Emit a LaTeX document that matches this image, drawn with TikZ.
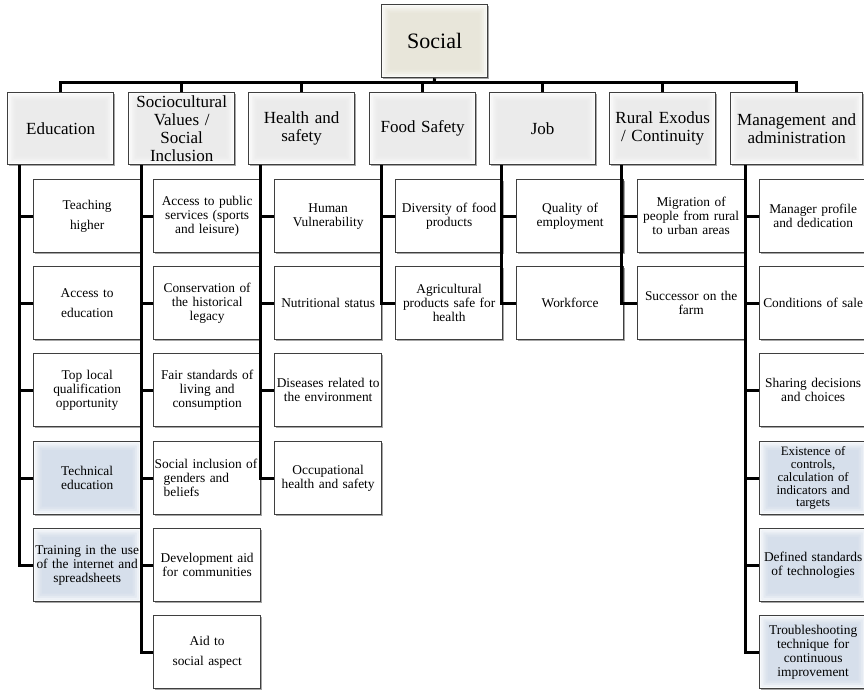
\documentclass[tikz,border=0pt]{standalone}
\usepackage{fontspec}
\setmainfont{Liberation Serif}
\usetikzlibrary{shadows}

\definecolor{edgegray}{HTML}{3F3F3F}
\definecolor{catfill}{HTML}{EBEBEB}
\definecolor{rootfill}{HTML}{E8E6DA}
\definecolor{bluefill}{HTML}{D6DFEB}

% one light frame of the bevel, between insets #1 and #2 (in pt)
\newcommand{\bevelframe}[3]{%
  \fill[white, opacity=#3, even odd rule]
    ([shift={(#1pt,#1pt)}]path picture bounding box.south west) rectangle
    ([shift={(-#1pt,-#1pt)}]path picture bounding box.north east)
    ([shift={(#2pt,#2pt)}]path picture bounding box.south west) rectangle
    ([shift={(-#2pt,-#2pt)}]path picture bounding box.north east);}

\tikzset{
  conn/.style={line width=3pt, black},
  box/.style={draw=edgegray, line width=1.3pt, anchor=north west, align=center,
    inner sep=1pt,
    drop shadow={shadow xshift=1pt, shadow yshift=-1.2pt, opacity=.35, fill=black}},
  bevel/.style={path picture={
    \bevelframe{0}{2}{.85}
    \bevelframe{2}{4}{.6}
    \bevelframe{4}{6}{.35}
    \bevelframe{6}{8}{.15}
  }},
  rootbox/.style={box, bevel, fill=rootfill, minimum width=106pt, minimum height=73pt,
    font=\fontsize{22}{24}\selectfont},
  catbox/.style={box, bevel, fill=catfill, minimum width=106pt, minimum height=72pt,
    text width=104pt, font=\fontsize{17}{18}\selectfont},
  leaf/.style={box, fill=white, minimum width=107pt, minimum height=73pt,
    text width=105pt, font=\fontsize{13.4}{14}\selectfont},
  leafblue/.style={leaf, bevel, fill=bluefill}
}

\begin{document}
\begin{tikzpicture}[x=1pt, y=-1pt]
\useasboundingbox (0,0) rectangle (864,692);

% top level
\node[rootbox] (root) at (381,4) {Social};

% categories
\node[catbox] (edu) at (7,92)   {Education};
\node[catbox] (soc) at (128,92) {Sociocultural\\Values /\\Social\\Inclusion};
\node[catbox] (hea) at (248,92) {Health and\\safety};
\node[catbox] (foo) at (369,92) {Food Safety};
\node[catbox] (job) at (489,92) {Job};
\node[catbox] (rur) at (609,92) {Rural Exodus\\/ Continuity};
\node[catbox, minimum width=132pt, text width=130pt] (man) at (730,92) {Management and\\administration};

% Education
\node[leaf] (edu1) at (33,179) {Teaching\\[6pt]higher};
\node[leaf] (edu2) at (33,266) {Access to\\[6pt]education};
\node[leaf] (edu3) at (33,353) {Top local\\qualification\\opportunity};
\node[leafblue] (edu4) at (33,441) {Technical\\education};
\node[leafblue] (edu5) at (33,528) {Training in the use\\of the internet and\\spreadsheets};

% Sociocultural values / social inclusion
\node[leaf] (soc1) at (153,179) {Access to public\\services (sports\\and leisure)};
\node[leaf] (soc2) at (153,266) {Conservation of\\the historical\\legacy};
\node[leaf] (soc3) at (153,353) {Fair standards of\\living and\\consumption};
\node[leaf, align=left] (soc4) at (153,441) {Social inclusion of\\\hspace*{9pt}genders and\\\hspace*{9pt}beliefs};
\node[leaf] (soc5) at (153,528) {Development aid\\for communities};
\node[leaf] (soc6) at (153,615) {Aid to\\[6pt]social aspect};

% Health and safety
\node[leaf] (hea1) at (274,179) {Human\\Vulnerability};
\node[leaf] (hea2) at (274,266) {Nutritional status};
\node[leaf] (hea3) at (274,353) {Diseases related to\\the environment};
\node[leaf] (hea4) at (274,441) {Occupational\\health and safety};

% Food safety
\node[leaf] (foo1) at (395,179) {Diversity of food\\products};
\node[leaf] (foo2) at (395,266) {Agricultural\\products safe for\\health};

% Job
\node[leaf] (job1) at (516,179) {Quality of\\employment};
\node[leaf] (job2) at (516,266) {Workforce};

% Rural exodus / continuity
\node[leaf] (rur1) at (637,179) {Migration of\\people from rural\\to urban areas};
\node[leaf] (rur2) at (637,266) {Successor on the\\farm};

% Management and administration
\node[leaf] (man1) at (759,179) {Manager profile\\and dedication};
\node[leaf] (man2) at (759,266) {Conditions of sale};
\node[leaf] (man3) at (759,353) {Sharing decisions\\and choices};
\node[leafblue, font=\fontsize{12.8}{12.8}\selectfont] (man4) at (759,441) {Existence of\\controls,\\calculation of\\indicators and\\targets};
\node[leafblue] (man5) at (759,528) {Defined standards\\of technologies};
\node[leafblue] (man6) at (759,615) {Troubleshooting\\technique for\\continuous\\improvement};

% connectors: root to categories
\coordinate (bar) at (434,83);
\draw[conn] (root.south) -- (bar);
\foreach \c in {edu,soc,hea,foo,job,rur,man}
  \draw[conn] (\c.north) |- (bar);

% connectors: categories to their items
\foreach \k in {1,...,5}
  \draw[conn] ([xshift=12pt]edu.south west) |- (edu\k.west);
\foreach \k in {1,...,6}
  \draw[conn] ([xshift=13pt]soc.south west) |- (soc\k.west);
\foreach \k in {1,...,4}
  \draw[conn] ([xshift=12pt]hea.south west) |- (hea\k.west);
\foreach \k in {1,2}
  \draw[conn] ([xshift=12pt]foo.south west) |- (foo\k.west);
\foreach \k in {1,2}
  \draw[conn] ([xshift=12pt]job.south west) |- (job\k.west);
\foreach \k in {1,2}
  \draw[conn] ([xshift=12pt]rur.south west) |- (rur\k.west);
\foreach \k in {1,...,6}
  \draw[conn] ([xshift=15pt]man.south west) |- (man\k.west);
\end{tikzpicture}
\end{document}
